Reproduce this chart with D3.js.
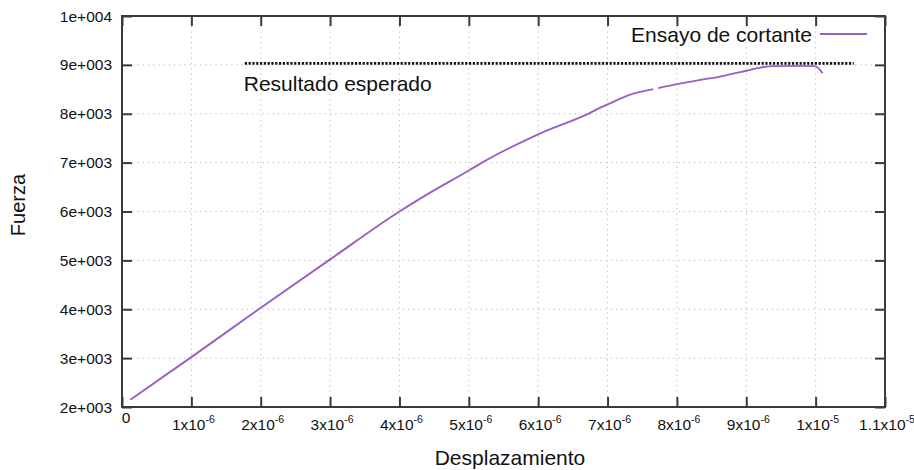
<!DOCTYPE html>
<html>
<head>
<meta charset="utf-8">
<script src="https://cdn.jsdelivr.net/npm/d3@7"></script>
<style>
  html, body { margin: 0; padding: 0; background: #fff; }
  svg { display: block; font-family: "Liberation Sans", Arial, Helvetica, sans-serif; }
</style>
</head>
<body>
<svg id="chart" width="914" height="470"></svg>
<script>
// Shear test: force vs. displacement
const dispMicro = [0.12, 1.0, 1.97, 3.0, 4.0, 4.34, 5.0, 5.19, 6.0, 6.75, 6.89, 7.0, 7.37, 7.66, null, 7.73, 8.02, 8.33, 8.62, 9.0, 9.2, 9.39, 9.77, 9.99, 10.1];
const force     = [2150, 3020, 4000, 5020, 6000, 6300, 6840, 7000, 7580, 8020, 8120, 8190, 8410, 8505, null, 8525, 8610, 8690, 8760, 8880, 8945, 8975, 8980, 8975, 8830];

// Expected result (horizontal reference)
const expectedForce = 9030;
const expectedRangeMicro = [1.77, 10.55];

const yTicks = [2000, 3000, 4000, 5000, 6000, 7000, 8000, 9000, 10000];
const yTickLabels = ["2e+003", "3e+003", "4e+003", "5e+003", "6e+003", "7e+003", "8e+003", "9e+003", "1e+004"];
const xTicks = [0, 1e-6, 2e-6, 3e-6, 4e-6, 5e-6, 6e-6, 7e-6, 8e-6, 9e-6, 1e-5, 1.1e-5];
const xTickLabels = ["0", "1x10^-6", "2x10^-6", "3x10^-6", "4x10^-6", "5x10^-6", "6x10^-6", "7x10^-6", "8x10^-6", "9x10^-6", "1x10^-5", "1.1x10^-5"];

const seriesName = "Ensayo de cortante";
const expectedName = "Resultado esperado";
const xTitle = "Desplazamiento";
const yTitle = "Fuerza";

const plotL = 122, plotR = 885, plotT = 16, plotB = 407;
const svg = d3.select("#chart");

const x = d3.scaleLinear().domain([0, 1.1e-5]).range([plotL, plotR]);
const y = d3.scaleLinear().domain([2000, 10000]).range([plotB, plotT]);

// Dotted grid
const grid = svg.append("g").attr("stroke", "#b8b8b8").attr("stroke-width", 1).attr("stroke-dasharray", "1.2,4");
grid.selectAll("line.gx").data(xTicks.filter(t => t > 0 && t < 1.1e-5)).join("line")
  .attr("class", "gx")
  .attr("x1", d => x(d)).attr("x2", d => x(d)).attr("y1", plotT).attr("y2", plotB);
grid.selectAll("line.gy").data(yTicks.filter(t => t > 2000 && t < 10000)).join("line")
  .attr("class", "gy")
  .attr("x1", plotL).attr("x2", plotR).attr("y1", d => y(d)).attr("y2", d => y(d));

// Axes with inward ticks on all four sides
const axisColor = "#3a3a3a";
const tickLen = 10;
function styleAxis(g) {
  g.select(".domain").remove();
  g.selectAll(".tick line").attr("stroke", axisColor).attr("stroke-width", 2);
}
svg.append("g").attr("transform", `translate(0,${plotB})`)
  .call(d3.axisBottom(x).tickValues(xTicks).tickSize(-tickLen).tickFormat(""))
  .call(styleAxis);
svg.append("g").attr("transform", `translate(0,${plotT})`)
  .call(d3.axisTop(x).tickValues(xTicks).tickSize(-tickLen).tickFormat(""))
  .call(styleAxis);
svg.append("g").attr("transform", `translate(${plotL},0)`)
  .call(d3.axisLeft(y).tickValues(yTicks).tickSize(-tickLen).tickFormat(""))
  .call(styleAxis);
svg.append("g").attr("transform", `translate(${plotR},0)`)
  .call(d3.axisRight(y).tickValues(yTicks).tickSize(-tickLen).tickFormat(""))
  .call(styleAxis);

svg.append("rect").attr("x", plotL).attr("y", plotT)
  .attr("width", plotR - plotL).attr("height", plotB - plotT)
  .attr("fill", "none").attr("stroke", axisColor).attr("stroke-width", 2);

// Y tick labels
svg.append("g").selectAll("text").data(yTicks).join("text")
  .attr("x", plotL - 10).attr("y", d => y(d) + 5.5)
  .attr("text-anchor", "end").attr("font-size", 15.5).attr("fill", "#111")
  .text((d, i) => yTickLabels[i]);

// X tick labels with superscript exponents
const xl = svg.append("g").attr("font-size", 15.5).attr("fill", "#111");
xTicks.forEach((t, i) => {
  const parts = xTickLabels[i].split("^");
  const txt = xl.append("text").attr("text-anchor", "middle");
  if (parts.length === 1) {
    txt.attr("x", x(t) + 4).attr("y", plotB + 16).text(parts[0]);
  } else {
    txt.attr("x", x(t) + 2).attr("y", plotB + 23);
    txt.append("tspan").text(parts[0]);
    txt.append("tspan").attr("dy", -7).attr("font-size", 10.5).text(parts[1]);
  }
});

// Axis titles
svg.append("text").attr("x", 510).attr("y", 465)
  .attr("text-anchor", "middle").attr("font-size", 21).attr("fill", "#111").text(xTitle);
svg.append("text").attr("transform", `translate(25,205) rotate(-90)`)
  .attr("text-anchor", "middle").attr("font-size", 20).attr("fill", "#111").text(yTitle);

// Expected-result reference line
svg.append("line")
  .attr("x1", x(expectedRangeMicro[0] * 1e-6)).attr("x2", x(expectedRangeMicro[1] * 1e-6))
  .attr("y1", y(expectedForce)).attr("y2", y(expectedForce))
  .attr("stroke", "#111").attr("stroke-width", 2.6).attr("stroke-dasharray", "2.2,1.6");
svg.append("text").attr("x", x(expectedRangeMicro[0] * 1e-6) - 1).attr("y", y(expectedForce) + 28)
  .attr("font-size", 21).attr("fill", "#111").text(expectedName);

// Measured curve
const lineColor = "#9a5fc4";
const pts = dispMicro.map((d, i) => ({ x: d, y: force[i] }));
const line = d3.line()
  .defined(d => d.x != null && d.y != null)
  .curve(d3.curveMonotoneX)
  .x(d => x(d.x * 1e-6)).y(d => y(d.y));
svg.append("path").datum(pts).attr("d", line)
  .attr("fill", "none").attr("stroke", lineColor).attr("stroke-width", 1.9)
  .attr("stroke-linejoin", "round");

// Legend
svg.append("text").attr("x", 812).attr("y", 42).attr("text-anchor", "end")
  .attr("font-size", 21).attr("fill", "#111").text(seriesName);
svg.append("line").attr("x1", 820).attr("x2", 867).attr("y1", 34).attr("y2", 34)
  .attr("stroke", lineColor).attr("stroke-width", 1.9);
</script>
</body>
</html>
